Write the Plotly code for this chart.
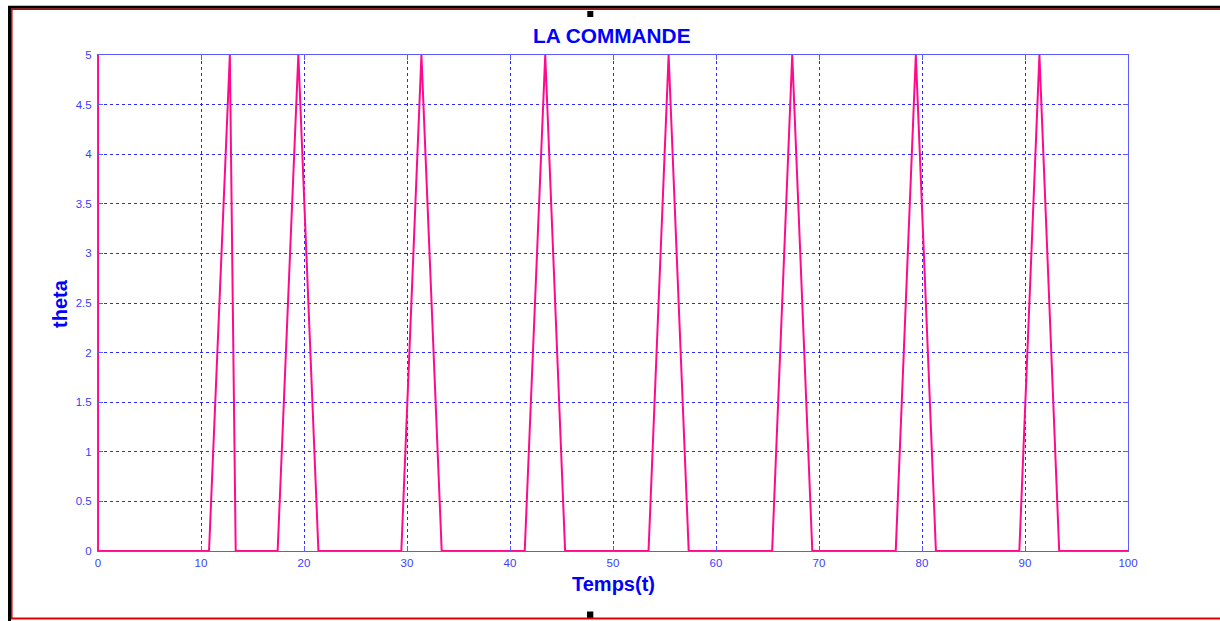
import plotly.graph_objects as go

# Data
temps = [0, 0, 10.78, 12.74, 12.80, 13.37,
         17.44, 19.45, 21.40,
         29.45, 31.40, 33.37,
         41.43, 43.42, 45.35,
         53.45, 55.40, 57.35,
         65.45, 67.40, 69.35,
         77.45, 79.40, 81.35,
         89.45, 91.40, 93.32,
         100]
theta = [5, 0, 0, 5, 5, 0,
         0, 5, 0,
         0, 5, 0,
         0, 5, 0,
         0, 5, 0,
         0, 5, 0,
         0, 5, 0,
         0, 5, 0,
         0]

x_ticks = [0, 10, 20, 30, 40, 50, 60, 70, 80, 90, 100]
y_ticks = [0, 0.5, 1, 1.5, 2, 2.5, 3, 3.5, 4, 4.5, 5]
y_tick_text = ["0", "0.5", "1", "1.5", "2", "2.5", "3", "3.5", "4", "4.5", "5"]

W, H = 1220, 621
L, R, T, B = 98, 1128, 55, 551  # plot area in pixels


def px(x):
    return (x - L) / (R - L)


def py(y):
    return (B - y) / (B - T)


fig = go.Figure()
fig.add_trace(go.Scatter(x=temps, y=theta, mode="lines",
                         line=dict(color="#ff0a8c", width=2),
                         showlegend=False, hoverinfo="skip"))

axis_blue = "#5a5aff"
grid_blue = "#2a2aff"
tick_font = dict(family="Liberation Sans, Arial", size=11.5, color="#3c3cff")

fig.update_layout(
    width=W, height=H,
    margin=dict(l=L, r=W - R, t=T, b=H - B),
    paper_bgcolor="white", plot_bgcolor="white",
    xaxis=dict(range=[0, 100], tickvals=x_ticks, showline=True, mirror="ticks",
               linecolor=axis_blue, linewidth=1, ticks="inside", ticklen=5,
               tickcolor=axis_blue, showgrid=True, gridcolor=grid_blue,
               griddash="3px,3px", gridwidth=1, zeroline=False,
               tickfont=tick_font, ticklabelstandoff=1),
    yaxis=dict(range=[0, 5], tickvals=y_ticks, ticktext=y_tick_text,
               showline=True, mirror="ticks",
               linecolor=axis_blue, linewidth=1, ticks="inside", ticklen=5,
               tickcolor=axis_blue, showgrid=True, gridcolor=grid_blue,
               griddash="3px,3px", gridwidth=1, zeroline=False,
               tickfont=tick_font, ticklabelstandoff=3),
)

label_font = dict(family="Liberation Sans, Arial", size=20, color="#0000ff")
fig.add_annotation(text="<b>LA COMMANDE</b>", xref="paper", yref="paper",
                   x=px(612), y=py(36), showarrow=False,
                   font=dict(family="Liberation Sans, Arial", size=20.8, color="#0000ff"),
                   xanchor="center", yanchor="middle")
fig.add_annotation(text="<b>Temps(t)</b>", xref="paper", yref="paper",
                   x=px(613), y=py(584), showarrow=False, font=label_font,
                   xanchor="center", yanchor="middle")
fig.add_annotation(text="<b>theta</b>", xref="paper", yref="paper",
                   x=px(60), y=py(304), showarrow=False, font=label_font,
                   textangle=-90, xanchor="center", yanchor="middle")

# Figure frame (black + red borders) and selection handles
shapes = [
    dict(type="line", x0=px(9.5), x1=px(9.5), y0=py(6), y1=py(621),
         line=dict(color="black", width=3)),
    dict(type="line", x0=px(8), x1=px(1220), y0=py(7.2), y1=py(7.2),
         line=dict(color="black", width=3)),
    dict(type="line", x0=px(11.5), x1=px(1220), y0=py(9.3), y1=py(9.3),
         line=dict(color="#cc0000", width=1.5)),
    dict(type="line", x0=px(11.8), x1=px(11.8), y0=py(9), y1=py(619),
         line=dict(color="#cc0000", width=1.5)),
    dict(type="line", x0=px(11), x1=px(1220), y0=py(618.6), y1=py(618.6),
         line=dict(color="#dd0000", width=2)),
    dict(type="rect", x0=px(587.3), x1=px(593.3), y0=py(11), y1=py(17),
         fillcolor="black", line=dict(width=0)),
    dict(type="rect", x0=px(587), x1=px(593.3), y0=py(611.5), y1=py(617.8),
         fillcolor="black", line=dict(width=0)),
]
for s in shapes:
    s.update(xref="paper", yref="paper", layer="above")
fig.update_layout(shapes=shapes)

fig.write_html("out.html")
